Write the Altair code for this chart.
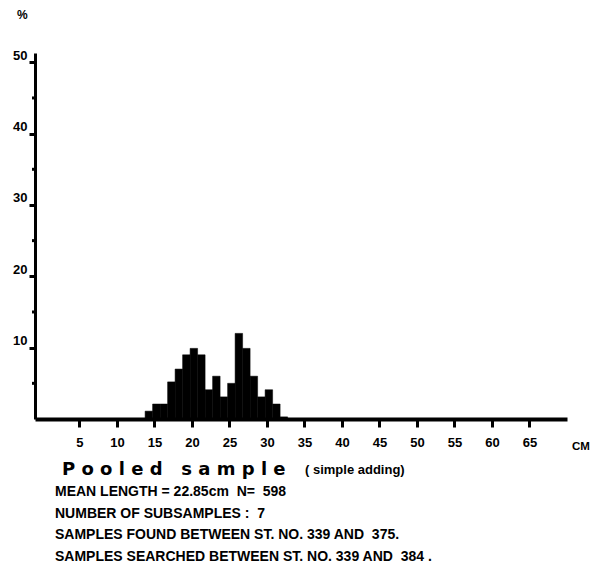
import altair as alt
import pandas as pd

# Length classes (cm) and percentage frequencies
length_cm = [14, 15, 16, 17, 18, 19, 20, 21, 22, 23, 24, 25, 26, 27, 28, 29, 30, 31, 32]
percent = [1.1, 2.1, 2.1, 5.2, 7.0, 9.0, 9.9, 9.0, 4.1, 6.0, 3.1, 5.0, 12.0, 9.9, 6.0, 3.1, 4.1, 2.1, 0.3]

x_tick_values = [5, 10, 15, 20, 25, 30, 35, 40, 45, 50, 55, 60, 65]
y_major_ticks = [10, 20, 30, 40, 50]
y_minor_ticks = [5, 15, 25, 35, 45]

NB = "\u00a0"
caption_lines = [
    "MEAN LENGTH = 22.85cm" + NB * 2 + "N=" + NB * 2 + "598",
    "NUMBER OF SUBSAMPLES :" + NB * 2 + "7",
    "SAMPLES FOUND BETWEEN ST. NO. 339 AND" + NB * 2 + "375.",
    "SAMPLES SEARCHED BETWEEN ST. NO. 339 AND" + NB * 2 + "384 .",
]
title_text = NB.join("Pooled") + NB * 3 + NB.join("sample")
subtitle_text = "(" + NB + "simple adding)"

FONT = "Liberation Sans"

df = pd.DataFrame({"cm": length_cm, "pct": percent})
df_minor = pd.DataFrame({"v": y_minor_ticks})

xscale = alt.Scale(domain=[-0.93, 70], nice=False, zero=False)
yscale = alt.Scale(domain=[0, 51.3], nice=False)

bars = alt.Chart(df).transform_calculate(
    start="datum.cm - 0.25", end="datum.cm + 0.75"
).mark_bar(color="black", stroke="black", strokeWidth=0.5).encode(
    x=alt.X("start:Q", scale=xscale, title=None,
            axis=alt.Axis(values=x_tick_values, tickSize=8, tickWidth=3, tickColor="black",
                          domainWidth=4, domainColor="black", grid=False,
                          labelFont=FONT, labelFontSize=13, labelFontWeight="bold",
                          labelColor="black", labelPadding=9)),
    x2="end:Q",
    y=alt.Y("pct:Q", scale=yscale, title=None,
            axis=alt.Axis(values=y_major_ticks, tickSize=6, tickWidth=3, tickColor="black",
                          domainWidth=3, domainColor="black", grid=False,
                          labelFont=FONT, labelFontSize=13, labelFontWeight="bold",
                          labelColor="black", labelPadding=2, labelBaseline="bottom")),
    y2=alt.datum(0),
)

minor = alt.Chart(df_minor).mark_rule(color="black", strokeWidth=3).encode(
    x=alt.value(-3), x2=alt.value(0), y=alt.Y("v:Q", scale=yscale)
)

def txt(s, x, y, size, font=FONT, weight="bold"):
    return alt.Chart(pd.DataFrame({"t": [s]})).mark_text(
        align="left", baseline="middle", font=font, fontSize=size,
        fontWeight=weight, color="black"
    ).encode(text="t:N", x=alt.value(x), y=alt.value(y))

layers = [bars, minor,
          txt(title_text, 27, 417, 18, font="DejaVu Sans"),
          txt(subtitle_text, 270, 417, 13),
          txt("CM", 537, 394, 11.5),
          txt("%", -18, -38, 12)]
for i, line in enumerate(caption_lines):
    layers.append(txt(line, 20, 439 + i * 21.7, 14))

chart = alt.layer(*layers).properties(
    width=532, height=366,
    autosize=alt.AutoSizeParams(type="none"),
    padding={"left": 27, "top": 45, "right": 24, "bottom": 148},
).configure_view(strokeWidth=0)

chart.save("out.html", embed_options={"renderer": "svg", "actions": False})
